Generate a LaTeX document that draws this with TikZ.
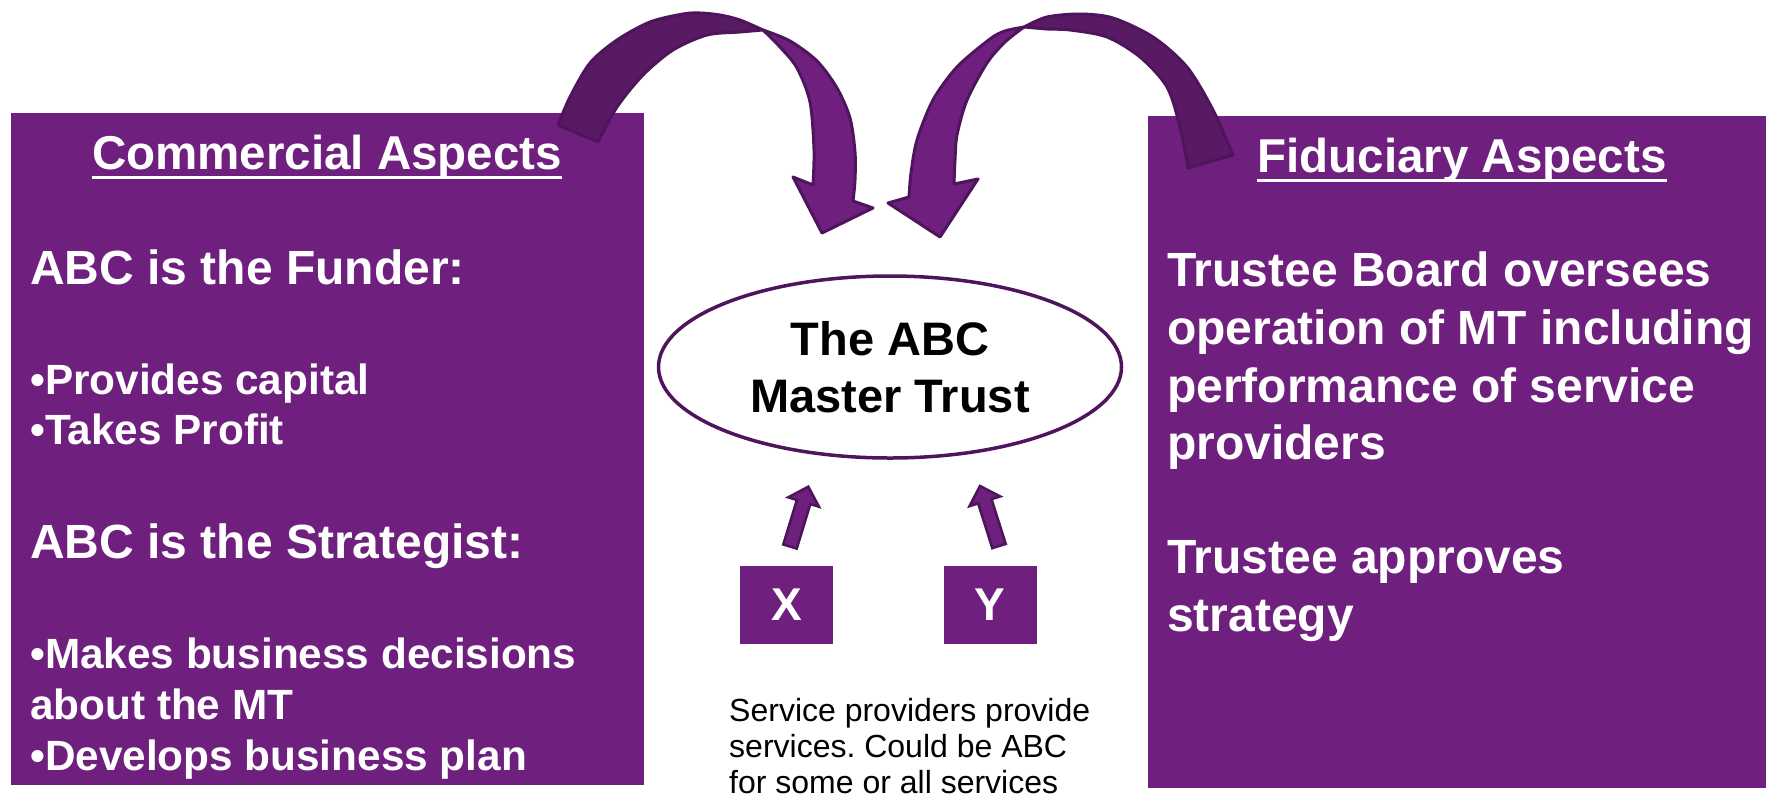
\documentclass[tikz,border=0pt]{standalone}
\usepackage{fontspec}
\setmainfont{Liberation Sans}
\usetikzlibrary{shapes.geometric,calc}

\definecolor{boxpurple}{RGB}{111,32,126}
\definecolor{ribbondark}{RGB}{87,26,99}
\definecolor{rim}{RGB}{78,20,92}

% block arrow from #1 (tail) to #2 (tip)
\newcommand{\providerarrow}[2]{%
  \path ($(#2)!16pt!(#1)$) coordinate (hb);
  \draw[pointer] ($(#1)!7pt!90:(#2)$) -- ($(hb)!7pt!90:(#2)$) -- ($(hb)!16pt!90:(#2)$)
    -- (#2) -- ($(hb)!16pt!-90:(#2)$) -- ($(hb)!7pt!-90:(#2)$) -- ($(#1)!7pt!-90:(#2)$) -- cycle;
}

\begin{document}
\begin{tikzpicture}[x=1pt,y=-1pt,
  panel/.style={fill=boxpurple, draw=none, inner sep=0pt, anchor=north west},
  heading/.style={text=white, font=\fontsize{47.5}{57}\selectfont\bfseries, inner sep=0pt, anchor=base},
  bigline/.style={text=white, font=\fontsize{48}{57.5}\selectfont\bfseries, inner sep=0pt, anchor=base west},
  bulletline/.style={text=white, font=\fontsize{42.3}{50.5}\selectfont\bfseries, inner sep=0pt, anchor=base west},
  note/.style={text=black, font=\fontsize{32}{36}\selectfont\frenchspacing, inner sep=0pt, anchor=base west},
  provider/.style={fill=boxpurple, text=white, font=\fontsize{46}{50}\selectfont\bfseries,
    minimum width=93pt, minimum height=78pt, inner sep=0pt},
  ribbon/.style={draw=rim, line width=3pt, line join=round},
  pointer/.style={fill=boxpurple, draw=rim, line width=2.6pt, line join=miter},
  uline/.style={white, line width=3pt},
]

\useasboundingbox (0,0) rectangle (1766,798);
\fill[white] (0,0) rectangle (1766,798);

% the two side panels
\node[panel, minimum width=633pt, minimum height=672pt] (commercial) at (11,113) {};
\node[panel, minimum width=618pt, minimum height=672pt] (fiduciary) at (1148,116) {};

% left curved arrow: back of the ribbon
\filldraw[ribbon, fill=ribbondark]
  plot[smooth] coordinates {(558,125) (570,97) (590,63) (617,40) (650,22) (683,14) (700,13) (720,15) (740,20) (763,30)}
  -- plot[smooth] coordinates {(763,30) (740,32) (707,35) (673,50) (643,75) (617,107) (598,142)}
  -- cycle;
% left curved arrow: front of the ribbon with head
\filldraw[ribbon, fill=boxpurple]
  plot[smooth] coordinates {(763,30) (790,41) (817,61) (837,88) (850,118) (855,152) (855,180) (853,201)}
  -- (873,208) -- (822,233) -- (793,177)
  -- plot[smooth] coordinates {(813,185) (814,150) (810,102) (797,68) (780,47) (763,30)}
  -- cycle;

% right curved arrow: back of the ribbon
\filldraw[ribbon, fill=ribbondark]
  plot[smooth] coordinates {(1233,155) (1213,110) (1187,67) (1153,37) (1113,18) (1080,14) (1047,17) (1024,27)}
  -- plot[smooth] coordinates {(1024,27) (1047,29) (1070,30) (1107,37) (1140,57) (1167,87) (1180,127) (1188,168)}
  -- cycle;
% right curved arrow: front of the ribbon with head
\filldraw[ribbon, fill=boxpurple]
  plot[smooth] coordinates {(1024,27) (1005,31) (990,39) (957,67) (933,100) (917,140) (911,173) (909,197)}
  -- (888,203) -- (940,237) -- (978,179)
  -- plot[smooth] coordinates {(954,184) (955,160) (957,135) (967,100) (987,63) (1005,42) (1024,27)}
  -- cycle;

% the master trust
\node[ellipse, draw=rim, line width=3.5pt, fill=white, minimum width=463pt, minimum height=182pt,
  inner sep=0pt, align=center, font=\fontsize{47}{57.6}\selectfont\bfseries] (trust) at (890,367)
  {The ABC\\Master Trust};

% service providers
\node[provider] (provx) at (786.5,605) {X};
\node[provider] (provy) at (990,605) {Y};

\coordinate (xtail) at (790,546.5);
\coordinate (xtip) at (808.3,486.7);
\coordinate (ytail) at (999,546);
\coordinate (ytip) at (980,486);
\providerarrow{xtail}{xtip}
\providerarrow{ytail}{ytip}

% headings
\node[heading] (cahead) at (327,169) {Commercial Aspects};
\draw[uline] ([yshift=-8.5pt]cahead.base west) -- ([yshift=-8.5pt]cahead.base east);
\node[heading] (fahead) at (1462,172) {Fiduciary Aspects};
\draw[uline] ([yshift=-8.5pt]fahead.base west) -- ([yshift=-8.5pt]fahead.base east);

% commercial side
\node[bigline] (funder) at (30,284) {ABC is the Funder:};
\node[bulletline] (capital) at (30,394) {•Provides capital};
\node[bulletline] (profit) at (30,444) {•Takes Profit};
\node[bigline] (strategist) at (30,558) {ABC is the Strategist:};
\node[bulletline] (decisions) at (30,668) {•Makes business decisions};
\node[bulletline] (aboutmt) at (30,719) {about the MT};
\node[bulletline] (plan) at (30,770) {•Develops business plan};

% fiduciary side
\node[bigline] (board) at (1167,286) {Trustee Board oversees};
\node[bigline] (operation) at (1167,344) {operation of MT including};
\node[bigline] (performance) at (1167,402) {performance of service};
\node[bigline] (providers) at (1167,459) {providers};
\node[bigline] (approves) at (1167,573) {Trustee approves};
\node[bigline] (strategy) at (1167,631) {strategy};

% note under the providers
\node[note] (note1) at (729,721) {Service providers provide};
\node[note] (note2) at (729,757) {services. Could be ABC};
\node[note] (note3) at (729,793) {for some or all services};

\end{tikzpicture}
\end{document}
